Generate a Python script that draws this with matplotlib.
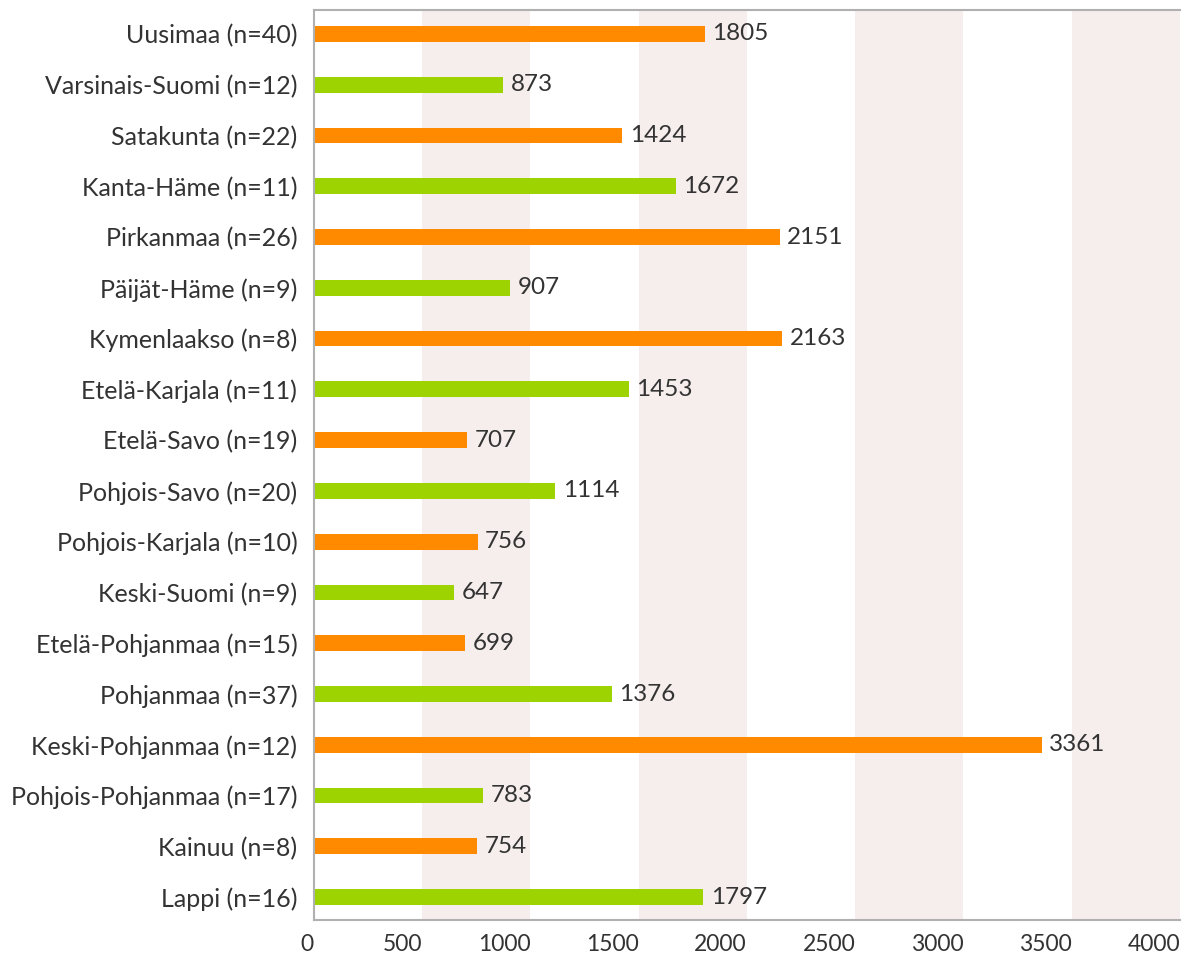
import numpy as np
import matplotlib.pyplot as plt

regions = ["Uusimaa (n=40)", "Varsinais-Suomi (n=12)", "Satakunta (n=22)", "Kanta-Häme (n=11)",
           "Pirkanmaa (n=26)", "Päijät-Häme (n=9)", "Kymenlaakso (n=8)", "Etelä-Karjala (n=11)",
           "Etelä-Savo (n=19)", "Pohjois-Savo (n=20)", "Pohjois-Karjala (n=10)", "Keski-Suomi (n=9)",
           "Etelä-Pohjanmaa (n=15)", "Pohjanmaa (n=37)", "Keski-Pohjanmaa (n=12)",
           "Pohjois-Pohjanmaa (n=17)", "Kainuu (n=8)", "Lappi (n=16)"]
values = [1805, 873, 1424, 1672, 2151, 907, 2163, 1453, 707, 1114, 756, 647, 699, 1376, 3361, 783, 754, 1797]
xticks = [0, 500, 1000, 1500, 2000, 2500, 3000, 3500, 4000]

plt.rcParams['font.family'] = ['Lato', 'DejaVu Sans']

orange = "#FF8A00"
green = "#9DD300"
band = "#F6EEEC"
txt = "#333333"

fig = plt.figure(figsize=(12.01, 9.56), dpi=100)
ax = fig.add_axes([0.2614, 0.0377, 0.7211, 0.9523])

y = np.arange(len(regions))
colors = [orange if i % 2 == 0 else green for i in range(len(regions))]

# pale vertical bands every other 500
for start in [500, 1500, 2500, 3500]:
    ax.axvspan(start, start + 500, color=band, zorder=0, lw=0)

ax.barh(y, values, height=0.31, color=colors, zorder=2)
for yi, v in zip(y, values):
    ax.text(v + 35, yi, str(v), va='center', ha='left', fontsize=17.5, color=txt, zorder=3)

ax.set_xlim(0, 4000)
ax.set_ylim(17.45, -0.48)
ax.set_yticks(y)
ax.set_yticklabels(regions, fontsize=18, color=txt)
ax.set_xticks(xticks)
ax.set_xticklabels([str(t) for t in xticks], fontsize=16.5, color=txt, ha='right')
ax.tick_params(axis='y', length=0, pad=12)
ax.tick_params(axis='x', length=0, pad=10)

for s in ['top', 'left', 'bottom']:
    ax.spines[s].set_color('#B0B0B0')
    ax.spines[s].set_linewidth(1.5)
ax.spines['right'].set_visible(False)

plt.savefig("out.png", dpi=100)
